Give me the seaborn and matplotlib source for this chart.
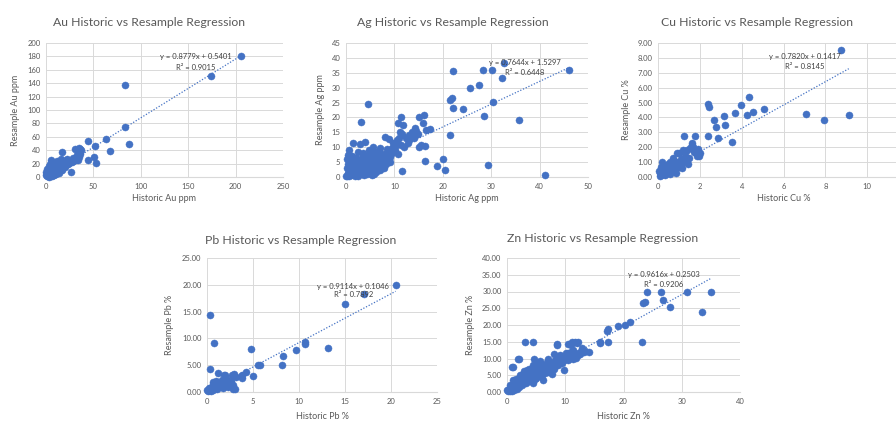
import numpy as np
import pandas as pd
import seaborn as sns
import matplotlib.pyplot as plt

# Au (ppm)
au_hist = [206, 174, 83, 83, 88, 63, 67, 44, 52, 51, 53, 44, 26, 17, 31, 35, 36, 35, 34, 29,
           27, 22, 15, 5, 11, 4, 13, 9, 2, 0.5, 1, 1.5, 2, 3, 3, 4, 5, 5, 6, 7,
           8, 8, 9, 10, 10, 11, 12, 12, 13, 14, 15, 16, 17, 18, 19, 20, 21, 23, 25, 28,
           30, 33, 36, 7, 6, 2, 4, 1, 3, 6, 9, 14, 3, 8, 12, 16, 5, 7,
           1, 2, 3, 4, 5, 6, 7, 8, 9, 10, 11, 12, 13, 14, 15, 16, 17, 18, 19, 20,
           22, 24, 26, 28, 32, 34, 37, 36, 18, 10, 6, 3, 0.5, 1.5, 22]
au_res = [180, 150, 137, 75, 49, 57, 39, 54, 46, 30, 21, 25, 8, 37, 42, 44, 38, 30, 25, 25,
          23, 23, 18, 26, 20, 20, 13, 10, 8, 3, 1, 5, 2, 4, 12, 7, 10, 3, 15, 6,
          12, 3, 16, 8, 14, 5, 10, 17, 7, 12, 22, 10, 14, 20, 16, 18, 20, 19, 22, 24,
          27, 33, 35, 18, 22, 12, 15, 6, 0.5, 1, 6, 6, 9, 20, 24, 27, 5, 9,
          3, 5, 7, 2, 8, 5, 3, 8, 11, 5, 12, 8, 15, 9, 13, 16, 11, 17, 21, 15,
          20, 21, 24, 28, 26, 36, 40, 42, 24, 20, 12, 16, 8, 12, 27]

# Ag (ppm)
ag_hist = [46, 32.6, 32.2, 30.2, 28.4, 22.2, 27.5, 25.6, 30.3, 21.5, 21.8, 22.2, 24.1, 28.6, 35.8,
           21.5, 4.5, 3, 29.4, 41.1, 20.1, 20.5, 18.9, 16.3, 11.6, 5.4, 11.4, 10.8, 11.8, 11.2,
           11.5, 15.1, 16.1, 16, 16.5, 17.4, 14.4, 14.9, 8.1, 8.9, 9.8, 10.6, 13.1, 12.9, 11.4,
           15.5, 16.3, 15.1, 3.9, 2.9, 1.5, 0.7, 0.5, 5.6, 7, 8.4, 10.1, 10.8, 9.1, 7.4,
           0.2, 0.5, 0.8, 1, 1.2, 1.5, 1.8, 2, 2.2, 2.5, 2.8, 3, 3.2, 3.5, 3.8, 4,
           4.2, 4.5, 4.8, 5, 5.2, 5.5, 5.8, 6, 6.2, 6.5, 6.8, 7, 7.2, 7.5, 7.8, 8,
           0.3, 1, 1.3, 2.4, 3.6, 4.8, 6, 0.6, 1.6, 2.7, 3.3, 4.4, 5.8, 8.5, 9.5, 12, 13, 14,
           0.1, 0.4, 0.7, 0.9, 1.1, 1.4, 1.7, 1.9, 2.1, 2.3, 2.6, 2.9, 3.1, 3.4, 3.7, 3.9,
           4.1, 4.3, 4.6, 4.9, 5.1, 5.4, 5.6, 5.9, 6.1, 6.4, 6.6, 6.9, 7.1, 7.4, 7.6, 7.9,
           8.2, 8.6, 9, 1.2, 0.5, 0.2, 2, 3, 3.5, 5, 6.8, 9.6, 10.4, 12.4, 13.6, 11, 14.2]
ag_res = [36, 38.2, 33.3, 35.9, 35.9, 35.6, 30.9, 29.8, 25.3, 25.8, 26.5, 23.3, 23, 20.6, 19.1,
          14, 24.4, 18.4, 3.9, 0.7, 5.9, 2.3, 3.7, 5.4, 2, 0.7, 20.2, 18.2, 17.4, 15.2,
          14.6, 20, 20.8, 18.2, 15.8, 16, 15.5, 14.6, 13.5, 12.6, 11.3, 12.4, 12.4, 11.3, 10.7,
          10.7, 10.4, 10.2, 11.8, 11.1, 11.5, 9.1, 7.4, 10.2, 9.6, 9.3, 9.1, 7.7, 6.8, 7.4,
          0.5, 1.5, 3, 0.8, 2.2, 4, 1, 5.5, 2.8, 0.5, 4.2, 1.8, 6, 3, 0.8, 5,
          2, 7, 3.8, 1.2, 5.8, 2.8, 4.5, 6.5, 1.8, 3.5, 5.5, 2.5, 4.2, 6, 3, 5,
          6, 5.2, 7, 8.5, 8, 9, 8.3, 2.2, 3.3, 1.3, 4.8, 1, 0.9, 7.5, 8.2, 10, 14, 13,
          0.2, 1, 0.3, 2, 3.5, 1.2, 2.5, 0.4, 3.8, 1.6, 4.8, 2.2, 3.4, 0.9, 4.4, 2.6,
          6, 3.2, 4.6, 2.4, 6.6, 3.6, 5, 7.2, 4, 5.8, 2.2, 4.8, 6.8, 3.8, 5.4, 7.8,
          4.4, 6.2, 5.2, 4.6, 4.2, 3, 6.4, 5.8, 7.2, 8.4, 8.8, 9.8, 10.6, 13.2, 15, 13, 16.5]

# Cu (%)
cu_hist = [8.77, 7.08, 7.93, 9.12, 5.06, 4.34, 3.97, 4.55, 4.27, 3.7, 3.16, 3.19, 2.79, 2.66, 2.38,
           2.42, 2.38, 1.79, 1.23, 2.87, 3.56, 1.95, 1.67, 1.61, 1.39, 0.19, 1.43,
           1.61, 1.53, 1.21, 0.9, 1.29, 1.85, 0.73, 0.57, 1.05, 1.37, 1.0, 1.1, 0.8, 0.6,
           0.5, 0.4, 0.3, 0.2, 0.1, 0.05, 0.35, 0.45, 0.65, 0.75, 0.85, 0.95, 1.15, 0.15,
           0.25, 0.55, 1.3, 1.5, 0.7, 1.7, 1.9, 2.0,
           0.1, 0.2, 0.3, 0.4, 0.5, 0.6, 0.7, 0.8, 0.9, 1.0, 1.1, 0.35, 0.15, 1.2]
cu_res = [8.5, 4.23, 3.83, 4.17, 4.57, 5.36, 4.84, 4.35, 4.17, 4.32, 4.12, 3.49, 3.33, 3.83, 4.91,
          4.68, 2.77, 2.77, 2.77, 2.59, 2.36, 1.42, 2.03, 2.25, 1.8, 1.0, 0.9,
          2.15, 1.93, 1.81, 1.59, 1.37, 1.41, 1.25, 1.03, 0.92, 1.14, 1.6, 1.2, 0.9, 0.7,
          0.5, 0.3, 0.6, 0.2, 0.1, 0.4, 0.15, 0.8, 0.4, 0.6, 0.3, 0.75, 0.6, 0.7,
          0.45, 0.2, 1.6, 1.3, 0.95, 1.7, 1.9, 1.6,
          0.3, 0.5, 0.2, 0.6, 0.9, 0.4, 0.7, 0.5, 1.0, 0.7, 0.9, 0.35, 0.15, 1.0]

# Pb (%)
pb_hist = [20.5, 17.1, 15, 0.36, 0.8, 4.8, 10.7, 10.7, 9.7, 13.2, 8.26, 8.1, 5.5, 5.8, 0.3,
           4.96, 4.2, 3.8, 2.9, 1.8, 2.83, 1.23, 1.96, 2.68, 3.2, 3.77, 1.6, 0.69, 2.14, 2.86,
           1.41, 0.33, 1.05, 0, 2.32, 3.04, 0.1, 0.2, 0.4, 0.5, 0.7, 0.9, 1.1, 1.3, 1.5,
           1.7, 1.9, 2.1, 2.4, 2.6, 0.6, 1.0, 1.2, 0.2]
pb_res = [20, 18.25, 16.4, 14.4, 9.06, 8.0, 8.9, 9.4, 7.8, 8.25, 6.7, 5.1, 5.0, 5.0, 4.2,
          2.94, 3.75, 3.1, 3.4, 3.25, 0.6, 3.48, 3.17, 3.17, 2.86, 2.55, 2.24, 1.92, 1.92, 1.31,
          1.31, 0.69, 0.87, 0.37, 1.0, 0.5, 0.1, 0.3, 0.2, 0.6, 0.4, 1.1, 0.5, 0.9, 1.6,
          0.7, 1.3, 2.6, 1.6, 2.1, 1.4, 2.0, 1.2, 0.8]

# Zn (%)
zn_hist = [35.1, 30.9, 26.5, 24, 23.7, 23.4, 26.7, 27.9, 33.4, 23.1, 21.1, 20.3, 19.1, 17.4, 17.1,
           17.3, 15.9, 16, 13.4, 12, 12.2, 11.1, 11, 8.6, 3.1, 2, 4.6, 0.9, 9.7,
           4.5, 10.5, 11.7, 8.6, 10.5, 9.1, 12.5, 9.7, 11.4, 6.8, 5.7, 4.5, 3.4, 2.2, 1.1, 0.5,
           0, 1.9, 1.1, 7.4, 0.2, 0.5, 0.8, 1, 1.3, 1.6, 2, 2.3, 2.6, 3, 3.3, 3.6,
           4, 4.3, 4.7, 5, 5.3, 5.7, 6, 6.3, 6.7, 7, 7.3, 7.7, 8, 8.3, 8.7, 9,
           9.4, 10, 10.4, 10.8, 11.2, 11.6, 12.2, 1.5, 2.8, 3.8, 5, 6.2, 4.5, 7.8,
           0.3, 0.6, 0.9, 1.2, 1.4, 1.8, 2.1, 2.4, 2.7, 3.1, 3.4, 3.7, 4.1, 4.4, 4.8, 5.2,
           5.5, 5.9, 6.1, 6.5, 6.9, 7.2, 7.5, 7.9, 8.2, 8.5, 8.9, 9.2, 9.6, 10.2, 10.6, 11,
           11.4, 11.8, 12.6, 13.2, 14, 12.8, 5.6, 7, 8, 3, 2.5]
zn_res = [30, 30, 30, 30, 27, 26.7, 27.5, 25.5, 23.8, 15, 21, 20, 19.7, 18.7, 18.2,
          15, 14.5, 15, 12.2, 14.5, 15, 15, 14, 14.2, 15, 10, 10, 7.5, 6.7,
          15, 14.3, 15, 14, 11.5, 11, 12, 9.6, 10, 9, 8.6, 8.1, 6.6, 5.1, 3.6, 2.1,
          0.6, 10, 7.5, 6.6, 0.3, 1, 0.4, 2, 1.2, 2.6, 1.5, 3.2, 2, 4, 2.8, 5,
          3.5, 4.8, 6.2, 4.2, 5.5, 7, 5.2, 6.5, 8, 6, 7.3, 8.6, 7, 9, 8, 10.2,
          8.8, 10.5, 9.5, 11.2, 10.8, 11.6, 11, 4, 5.5, 7, 8, 3.6, 2.8, 5.3,
          0.8, 0.2, 1.5, 0.6, 2, 1, 2.4, 3.8, 2.6, 3, 4.4, 3.2, 4.2, 5.6, 4, 6.4,
          4.8, 6, 7.6, 5.8, 7, 8.4, 6.6, 7.8, 9.6, 8.4, 9.2, 10.8, 9.8, 11.6, 10.4, 11.8,
          12.6, 10.2, 11.4, 11.8, 12, 13, 9.4, 10, 11.4, 6.4, 4.8]

# Excel trendline labels
slopes = [0.8779, 0.7644, 0.7820, 0.9114, 0.9616]
intercepts = [0.5401, 1.5297, 0.1417, 0.1046, 0.2503]
r_squared = [0.9015, 0.6448, 0.8145, 0.7892, 0.9206]

BLUE = '#4472C4'
GREY = '#595959'
W, H = 896, 422

sns.set_style('white')
plt.rcParams['font.family'] = ['Lato', 'DejaVu Sans']

fig = plt.figure(figsize=(W / 100, H / 100), dpi=100)


def px_axes(left, top, right, bottom):
    return fig.add_axes([left / W, 1 - bottom / H, (right - left) / W, (bottom - top) / H])


panels = [
    dict(el='Au', x=au_hist, y=au_res, box=(46, 43, 283, 177), xl=(0, 250), xs=50, yl=(0, 200), ys=20,
         fmt='{:.0f}', tc=(149, 22), unit='ppm', eq=(158, 180, 163), ylx=-0.13, xly=-0.164),
    dict(el='Ag', x=ag_hist, y=ag_res, box=(346, 43, 588, 177), xl=(0, 50), xs=10, yl=(0, 45), ys=5,
         fmt='{:.0f}', tc=(453, 22), unit='ppm', eq=(37, 38.6, 35), ylx=-0.107, xly=-0.164),
    dict(el='Cu', x=cu_hist, y=cu_res, box=(658, 43, 909, 177), xl=(0, 12), xs=2, yl=(0, 9), ys=1,
         fmt='{:.2f}', tc=(757, 22), unit='%', eq=(7.0, 8.08, 7.41), ylx=-0.124, xly=-0.164),
    dict(el='Pb', x=pb_hist, y=pb_res, box=(207, 258, 437, 392), xl=(0, 25), xs=5, yl=(0, 25), ys=5,
         fmt='{:.2f}', tc=(301, 240), unit='%', eq=(15.9, 19.6, 18.2), ylx=-0.161, xly=-0.182),
    dict(el='Zn', x=zn_hist, y=zn_res, box=(507, 258, 740, 392), xl=(0, 40), xs=10, yl=(0, 40), ys=5,
         fmt='{:.2f}', tc=(603, 239), unit='%', eq=(26.9, 35.1, 32.1), ylx=-0.155, xly=-0.182),
]

for i, p in enumerate(panels):
    ax = px_axes(*p['box'])
    df = pd.DataFrame({'hist': p['x'], 'res': p['y']})
    sns.scatterplot(data=df, x='hist', y='res', ax=ax, color=BLUE, s=26,
                    edgecolor=BLUE, linewidth=0.3, zorder=3, clip_on=False)

    # trendline from the equation shown on the chart
    xs = np.array([min(p['x']), max(p['x'])])
    ax.plot(xs, slopes[i] * xs + intercepts[i], color=BLUE, lw=0.9,
            linestyle=(0, (1, 1.4)), zorder=2)
    ex, ey, ry = p['eq']
    ax.text(ex, ey, f'y = {slopes[i]:.4f}x + {intercepts[i]:.4f}', ha='center', va='center',
            fontsize=5.5, color='#404040', zorder=4)
    ax.text(ex, ry, f'R\u00b2 = {r_squared[i]:.4f}', ha='center', va='center',
            fontsize=5.5, color='#404040', zorder=4)

    ax.set_xlim(*p['xl'])
    ax.set_ylim(*p['yl'])
    ax.set_xticks(np.arange(p['xl'][0], p['xl'][1] + 0.001, p['xs']))
    yt = np.arange(p['yl'][0], p['yl'][1] + 0.001, p['ys'])
    ax.set_yticks(yt)
    ax.set_yticklabels([p['fmt'].format(v) for v in yt])
    ax.grid(True, color='#D9D9D9', lw=0.7)
    ax.set_axisbelow(True)
    for s in ['top', 'right', 'left']:
        ax.spines[s].set_visible(False)
    ax.spines['bottom'].set_color('#D9D9D9')
    ax.spines['bottom'].set_linewidth(0.8)
    ax.tick_params(length=0, labelsize=5.5, labelcolor=GREY, pad=4)

    ax.set_xlabel(f"Historic {p['el']} {p['unit']}", fontsize=6.5, color=GREY, va='center')
    ax.set_ylabel(f"Resample {p['el']} {p['unit']}", fontsize=6.5, color=GREY, va='center')
    ax.xaxis.set_label_coords(0.5, p['xly'])
    ax.yaxis.set_label_coords(p['ylx'], 0.5)

    tx, ty = p['tc']
    fig.text(tx / W, 1 - ty / H, f"{p['el']} Historic vs Resample Regression",
             ha='center', va='center', fontsize=8.8, color=GREY)

fig.savefig('out.png', dpi=100)
